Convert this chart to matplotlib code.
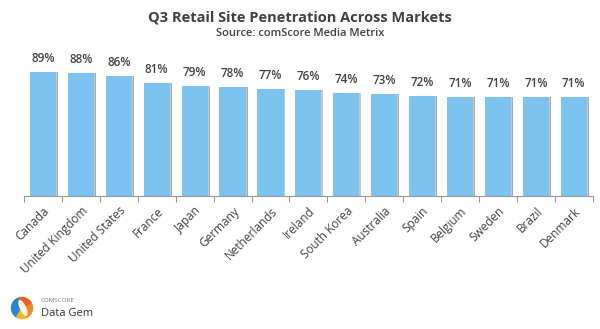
import matplotlib
matplotlib.use("Agg")
import matplotlib.pyplot as plt
from matplotlib.patches import Wedge, Ellipse
import numpy as np

countries = ["Canada", "United Kingdom", "United States", "France", "Japan", "Germany",
             "Netherlands", "Ireland", "South Korea", "Australia", "Spain", "Belgium",
             "Sweden", "Brazil", "Denmark"]
penetration = [89, 88, 86, 81, 79, 78, 77, 76, 74, 73, 72, 71, 71, 71, 71]
value_labels = ["89%", "88%", "86%", "81%", "79%", "78%", "77%", "76%", "74%", "73%",
                "72%", "71%", "71%", "71%", "71%"]

FONT = ["Open Sans", "DejaVu Sans"]
TXT = "#404040"

fig = plt.figure(figsize=(6.0, 3.29), dpi=100)
ax = fig.add_axes([0.04, 0.404, 0.948, 0.424])

x = np.arange(len(countries))
w = 0.69
# shadow
ax.bar(x + 0.05, penetration, width=w, color="#a9a9a9", zorder=1, linewidth=0)
ax.bar(x + 0.03, penetration, width=w, color="#c8c8c8", zorder=1.5, linewidth=0)
ax.bar(x, penetration, width=w, color="#7cc4ef", zorder=2, linewidth=0)

for xi, v, lab in zip(x, penetration, value_labels):
    ax.text(xi, v + 5.0, lab, ha="center", va="bottom", fontsize=8.5,
            fontweight="semibold", color=TXT, family=FONT)

ax.set_xlim(-0.5, len(countries) - 0.5)
ax.set_ylim(0, 100)
ax.set_yticks([])
for s in ["top", "right", "left"]:
    ax.spines[s].set_visible(False)
ax.spines["bottom"].set_color("#999999")
ax.spines["bottom"].set_linewidth(0.8)

ax.set_xticks(x)
ax.set_xticklabels(countries, rotation=45, ha="right", rotation_mode="anchor",
                   fontsize=8.5, color=TXT, family=FONT)
ax.tick_params(axis="x", which="major", length=0, pad=6)
ax.set_xticks(np.arange(-0.5, len(countries), 1.0), minor=True)
ax.tick_params(axis="x", which="minor", length=4, color="#999999", width=0.8)

fig.text(0.5, 0.948, "Q3 Retail Site Penetration Across Markets", ha="center", va="center",
         fontsize=10.5, fontweight="bold", color=TXT, family=FONT)
fig.text(0.5, 0.897, "Source: comScore Media Metrix", ha="center", va="center",
         fontsize=8, fontweight="semibold", color=TXT, family=FONT)

# logo
lax = fig.add_axes([0.0, 0.0, 1.0, 1.0], facecolor="none")
lax.set_xlim(0, 600)
lax.set_ylim(329, 0)
lax.set_aspect("equal")
lax.axis("off")
cx, cy, r = 22, 308, 10.5
lax.add_patch(Wedge((cx, cy), r, 120, 250, color="#2a86cf"))
lax.add_patch(Wedge((cx, cy), r, 60, 120, color="#f5b52a"))
lax.add_patch(Wedge((cx, cy), r, -30, 60, color="#f08a24"))
lax.add_patch(Wedge((cx, cy), r, 250, 330, color="#e8632a"))
lax.add_patch(Ellipse((cx + 1, cy), 5, 16, angle=-25, color="#fbf3dc"))
lax.text(41, 301, "COMSCORE", fontsize=4.5, color="#777777", va="center", family=FONT)
lax.text(41, 313, "Data Gem", fontsize=8, color="#333333", va="center", family=FONT)

fig.savefig("out.png", dpi=100)
